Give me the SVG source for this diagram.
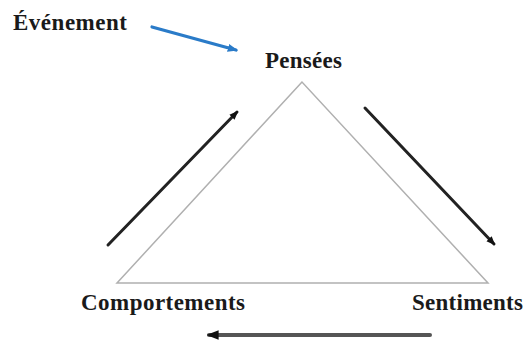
<svg xmlns="http://www.w3.org/2000/svg" width="526" height="343" viewBox="0 0 526 343">
<style>
.lbl{font-family:"Liberation Serif","Times New Roman",serif;font-weight:bold;font-size:23px;fill:#1a1a1a}
.arr{stroke:#222;stroke-width:3;fill:none;stroke-linecap:round}
</style>
<defs>
<marker id="ah" viewBox="0 0 10 10" refX="8" refY="5" markerWidth="3" markerHeight="3" orient="auto" markerUnits="strokeWidth">
<path d="M0,1 L10,5 L0,9 Z" fill="#111"/>
</marker>
<marker id="ahb" viewBox="0 0 10 10" refX="8" refY="5" markerWidth="3.2" markerHeight="3.2" orient="auto" markerUnits="strokeWidth">
<path d="M0,1 L10,5 L0,9 Z" fill="#2a7bc8"/>
</marker>
</defs>
<rect width="526" height="343" fill="#fff"/>
<g id="triangle">
<polygon points="302,82 117,283 488,283" fill="none" stroke="#b0b0b0" stroke-width="1.5"/>
</g>
<g id="connectors">
<line x1="152" y1="27" x2="236" y2="50" stroke="#2a7bc8" stroke-width="3.2" stroke-linecap="round" marker-end="url(#ahb)"/>
<line class="arr" x1="108" y1="245" x2="237" y2="112" marker-end="url(#ah)"/>
<line class="arr" x1="365" y1="108" x2="494" y2="244" marker-end="url(#ah)"/>
<line x1="430" y1="335" x2="209" y2="335" stroke="#555" stroke-width="4" stroke-linecap="round" marker-end="url(#ah)"/>
</g>
<g id="node-evenement"><text class="lbl" x="13" y="30" textLength="114">Événement</text></g>
<g id="node-pensees"><text class="lbl" x="265" y="68" textLength="77">Pensées</text></g>
<g id="node-comportements"><text class="lbl" x="81" y="310" textLength="164">Comportements</text></g>
<g id="node-sentiments"><text class="lbl" x="412" y="310" textLength="111">Sentiments</text></g>
</svg>
